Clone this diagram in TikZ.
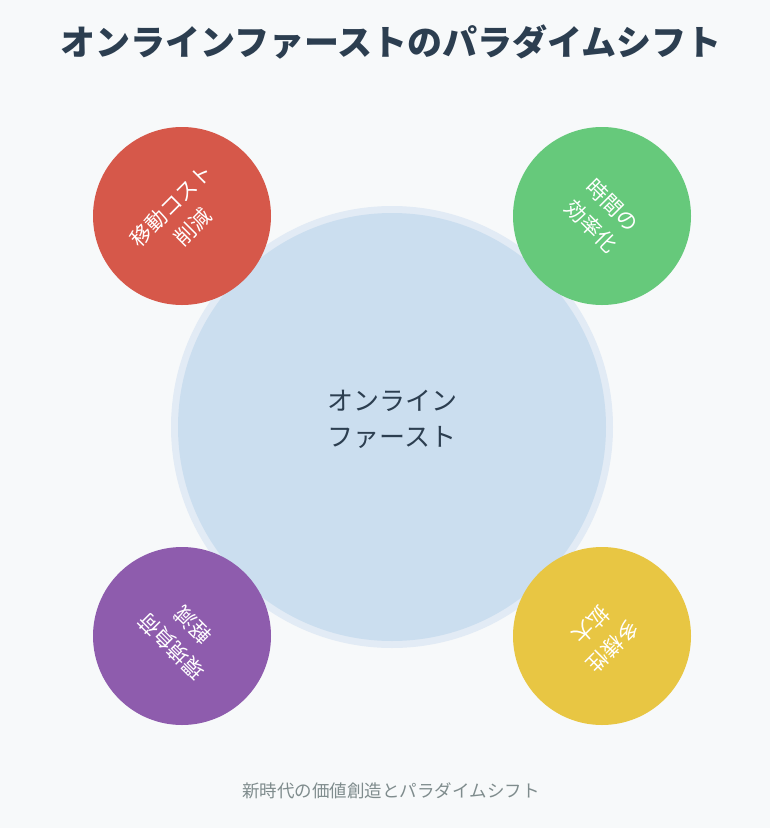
\documentclass[tikz,border=0pt]{standalone}
\usepackage{fontspec}
\setmainfont{Noto Sans CJK JP}
\usetikzlibrary{positioning}
\definecolor{bgcol}{HTML}{F7F9FA}
\definecolor{titlecol}{HTML}{2C3E50}
\definecolor{corecol}{HTML}{CBDEEF}
\definecolor{halocol}{HTML}{E2EBF5}
\definecolor{redcol}{HTML}{D6584A}
\definecolor{greencol}{HTML}{66C97B}
\definecolor{purplecol}{HTML}{8E5CAD}
\definecolor{yellowcol}{HTML}{E8C643}
\definecolor{footcol}{HTML}{7F8C8D}

\begin{document}
\begin{tikzpicture}[x=1pt,y=-1pt,
  bubble/.style={circle, minimum size=178pt, inner sep=0pt, text=white, align=center, font=\fontsize{21}{30}\selectfont}]
\useasboundingbox[fill=bgcol] (0,0) rectangle (770,828);

% Title
\node[text=titlecol, font=\fontsize{35}{40}\selectfont\bfseries] (title) at (391,42) {オンラインファーストのパラダイムシフト};

% Core circle
\fill[halocol] (392,427) circle (221pt);
\node[circle, minimum size=428pt, inner sep=0pt, fill=corecol] (core) at (392,427) {};
\node[text=titlecol, align=center, font=\fontsize{26}{36}\selectfont] (corelabel) at (392,419) {オンライン\\ファースト};

% Benefit circles
\node[bubble, fill=redcol, rotate=45] (cost) at (182,216) {移動コスト\\削減};
\node[bubble, fill=greencol, rotate=-45] (timeeff) at (602,216) {時間の\\効率化};
\node[bubble, fill=purplecol, rotate=135] (envload) at (182,636) {環境負荷\\軽減};
\node[bubble, fill=yellowcol, rotate=225] (diversity) at (602,636) {多様性\\拡大};

% Footer
\node[text=footcol, font=\fontsize{17.5}{20}\selectfont] (footer) at (391,791) {新時代の価値創造とパラダイムシフト};

\end{tikzpicture}
\end{document}
